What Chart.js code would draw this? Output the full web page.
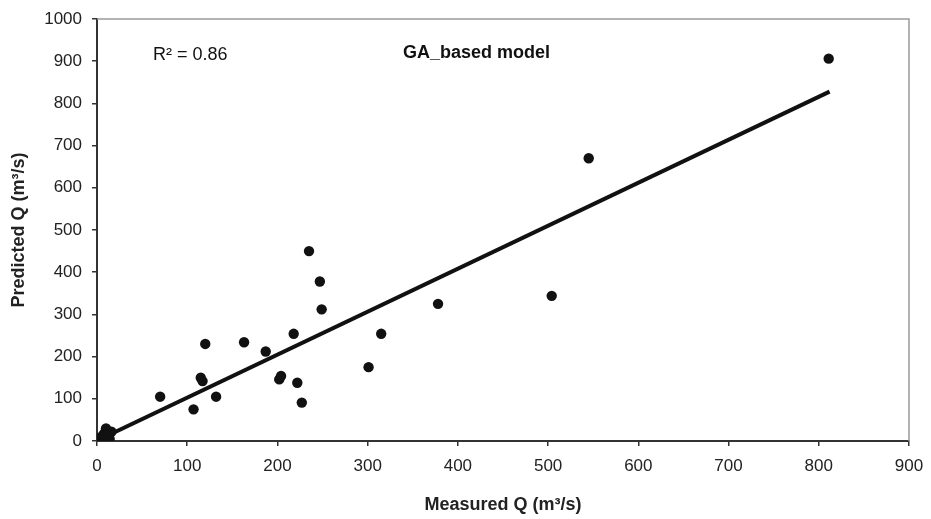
<!DOCTYPE html>
<html>
<head>
<meta charset="utf-8">
<script src="https://cdn.jsdelivr.net/npm/chart.js@4.4.0/dist/chart.umd.min.js"></script>
<style>
html,body{margin:0;padding:0;background:#fff;}
#wrap{width:931px;height:519px;position:relative;}
</style>
</head>
<body>
<div id="wrap"><canvas id="c" width="931" height="519"></canvas></div>
<script>
// Data
const measuredQ  = [2, 4, 6, 8, 10, 12, 14, 16, 70, 107, 115, 117, 120, 132, 163, 187, 202, 204, 218, 222, 227, 235, 247, 249, 301, 315, 378, 504, 545, 811];
const predictedQ = [3, 8, 12, 18, 30, 20, 5, 22, 105, 75, 150, 142, 230, 105, 234, 212, 146, 154, 254, 138, 91, 450, 378, 312, 175, 254, 325, 344, 670, 906];
const trendX = [2, 812];
const trendY = [3, 828];
const xTicks = [0, 100, 200, 300, 400, 500, 600, 700, 800, 900];
const yTicks = [0, 100, 200, 300, 400, 500, 600, 700, 800, 900, 1000];
const r2Text = 'R\u00B2 = 0.86';
const modelText = 'GA_based model';
const xTitle = 'Measured Q (m\u00B3/s)';
const yTitle = 'Predicted Q (m\u00B3/s)';

const FONT = "'Liberation Sans', Arial, Helvetica, sans-serif";

const scatterData = measuredQ.map((x, i) => ({x: x, y: predictedQ[i]}));
const trendData = trendX.map((x, i) => ({x: x, y: trendY[i]}));

const frame = {
  id: 'frame',
  afterDraw(chart) {
    const {ctx, chartArea: a} = chart;
    ctx.save();
    ctx.strokeStyle = '#9a9a9a';
    ctx.lineWidth = 1.5;
    ctx.beginPath();
    ctx.moveTo(a.left, a.top);
    ctx.lineTo(a.right, a.top);
    ctx.lineTo(a.right, a.bottom);
    ctx.stroke();
    ctx.fillStyle = '#111';
    ctx.textBaseline = 'middle';
    ctx.textAlign = 'left';
    ctx.font = '18px ' + FONT;
    ctx.fillText(r2Text, 153, 55);
    ctx.font = 'bold 18px ' + FONT;
    ctx.fillText(modelText, 403, 53);
    ctx.restore();
  }
};

new Chart(document.getElementById('c'), {
  type: 'scatter',
  data: {
    datasets: [
      {
        label: 'trend',
        data: trendData,
        showLine: true,
        borderColor: '#111',
        borderWidth: 4,
        pointRadius: 0,
        fill: false,
        order: 2
      },
      {
        label: 'points',
        data: scatterData,
        backgroundColor: '#111',
        borderColor: '#111',
        borderWidth: 0,
        pointRadius: 5.2,
        order: 1
      }
    ]
  },
  options: {
    responsive: false,
    animation: false,
    devicePixelRatio: 1,
    layout: {padding: {left: 0, top: 19, right: 22, bottom: 0}},
    plugins: {legend: {display: false}, tooltip: {enabled: false}},
    scales: {
      x: {
        type: 'linear',
        min: 0, max: 900,
        afterBuildTicks(s) { s.ticks = xTicks.map(v => ({value: v})); },
        afterFit(s) { s.height = 78; s.paddingLeft = 0; s.paddingRight = 0; },
        border: {color: '#333', width: 2},
        grid: {display: true, drawOnChartArea: false, drawTicks: true, tickLength: 5, color: '#333', lineWidth: 1.5},
        ticks: {color: '#222', padding: 10, font: {family: FONT, size: 17}, maxRotation: 0, callback: v => String(v)},
        title: {display: true, text: xTitle, color: '#222', font: {family: FONT, size: 18, weight: 'bold'}, padding: {top: 0, bottom: 3}}
      },
      y: {
        type: 'linear',
        min: 0, max: 1000,
        afterBuildTicks(s) { s.ticks = yTicks.map(v => ({value: v})); },
        afterFit(s) { s.width = 97; s.paddingTop = 0; s.paddingBottom = 0; },
        border: {color: '#333', width: 2},
        grid: {display: true, drawOnChartArea: false, drawTicks: true, tickLength: 5, color: '#333', lineWidth: 1.5},
        ticks: {color: '#222', padding: 10, font: {family: FONT, size: 17}, callback: v => String(v)},
        title: {display: true, text: yTitle, color: '#222', font: {family: FONT, size: 18, weight: 'bold'}, padding: {top: 8, bottom: 8}}
      }
    }
  },
  plugins: [frame]
});
</script>
</body>
</html>
